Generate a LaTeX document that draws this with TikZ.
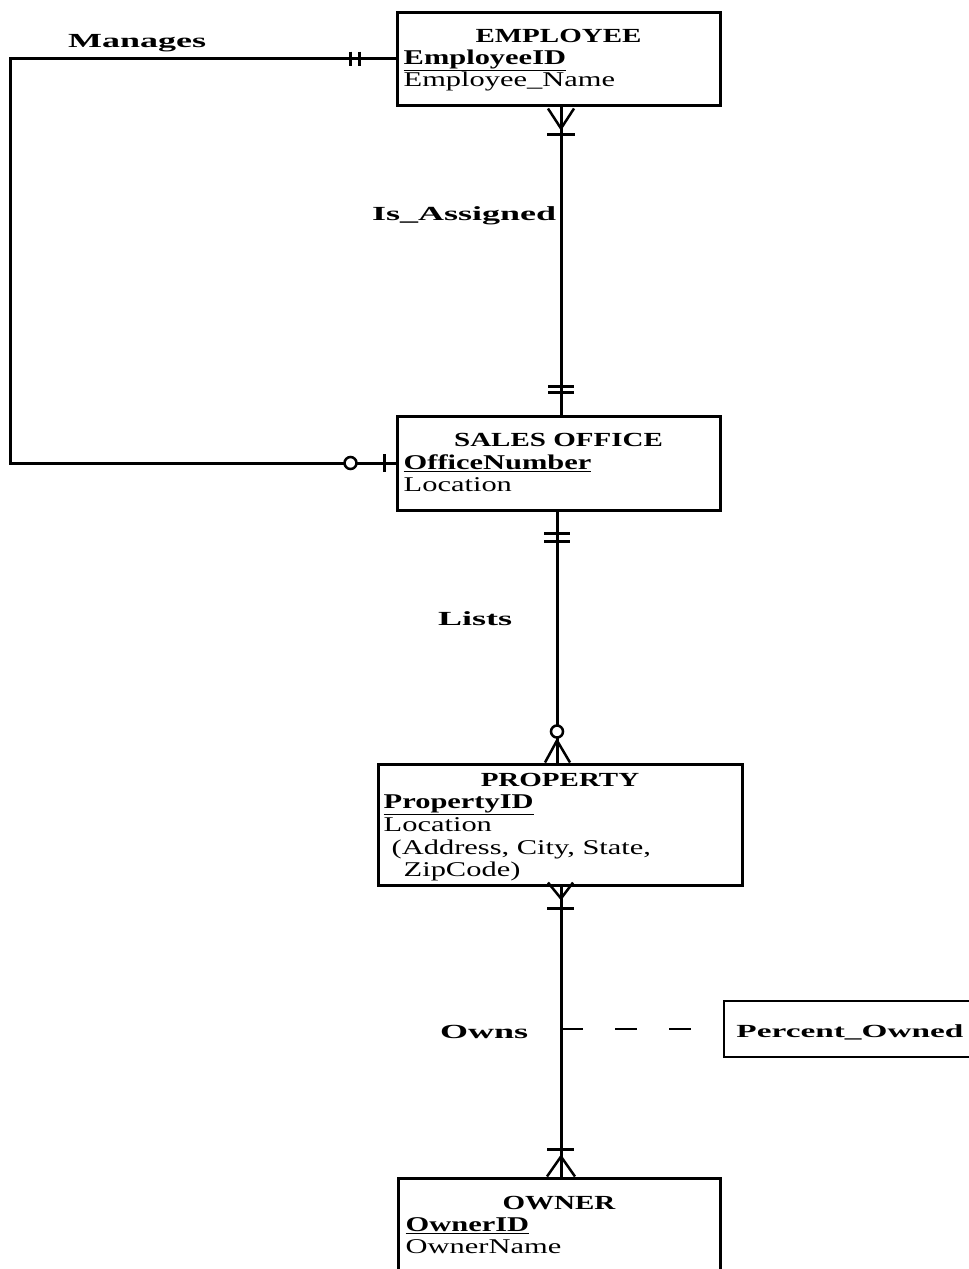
\documentclass[tikz,border=0pt]{standalone}
\usepackage{fontspec}
\setmainfont{Liberation Serif}
\newfontfamily\boxfont{Liberation Serif}[FakeStretch=1.45]
\newfontfamily\relfont{Liberation Serif}[FakeStretch=1.8]
\usetikzlibrary{positioning}

\tikzset{
  entity/.style={rectangle, draw=black, line width=3pt, inner sep=0pt},
  enttitle/.style={font=\boxfont\bfseries\fontsize{20}{22}\selectfont, anchor=base, inner sep=0pt},
  attr/.style={font=\boxfont\fontsize{21}{22}\selectfont, anchor=base west, inner sep=0pt},
  pkattr/.style={font=\boxfont\bfseries\fontsize{21}{22}\selectfont, anchor=base west, inner sep=0pt},
  rellabel/.style={font=\relfont\bfseries\fontsize{20}{24}\selectfont, anchor=base west, inner sep=0pt},
  conn/.style={line width=3pt, color=black},
  tick/.style={line width=2.5pt, color=black}
}

\begin{document}
\begin{tikzpicture}
\useasboundingbox (0pt,0pt) rectangle (969pt,-1269pt);
\clip (0pt,0pt) rectangle (969pt,-1269pt);

% entities
\node (employee) [entity, minimum width=323pt, minimum height=93pt] at (558.5pt, -58.5pt) {};
\node (salesoffice) [entity, minimum width=323pt, minimum height=94pt] at (558.5pt, -463pt) {};
\node (property) [entity, minimum width=364pt, minimum height=121pt] at (560pt, -824.5pt) {};
\node (owner) [entity, minimum width=322pt, minimum height=122pt] at (559pt, -1239pt) {};
\node (pctowned) [rectangle, draw=black, line width=1.5pt, minimum width=276pt, minimum height=56pt] at (862pt, -1029pt) {};

\node (employeeT) [enttitle] at ([yshift=-32pt]employee.north) {EMPLOYEE};
\node (employeeK) [pkattr] at ([xshift=8pt,yshift=-54pt]employee.north west) {\underline{EmployeeID}};
\node (employeeA) [attr] at ([xshift=8pt,yshift=-76pt]employee.north west) {Employee\_Name};

\node (salesofficeT) [enttitle] at ([yshift=-32pt]salesoffice.north) {SALES OFFICE};
\node (salesofficeK) [pkattr] at ([xshift=8pt,yshift=-55pt]salesoffice.north west) {\underline{OfficeNumber}};
\node (salesofficeA) [attr] at ([xshift=8pt,yshift=-77pt]salesoffice.north west) {Location};

\node (propertyT) [enttitle] at ([yshift=-24pt]property.north) {PROPERTY};
\node (propertyK) [pkattr] at ([xshift=7pt,yshift=-46pt]property.north west) {\underline{PropertyID}};
\node (propertyA) [attr] at ([xshift=7pt,yshift=-69pt]property.north west) {Location};
\node (propertyB) [attr] at ([xshift=15pt,yshift=-92pt]property.north west) {(Address, City, State,};
\node (propertyC) [attr] at ([xshift=27pt,yshift=-114pt]property.north west) {ZipCode)};

\node (ownerT) [enttitle] at ([yshift=-33pt]owner.north) {OWNER};
\node (ownerK) [pkattr] at ([xshift=9pt,yshift=-55pt]owner.north west) {\underline{OwnerID}};
\node (ownerA) [attr] at ([xshift=9pt,yshift=-77pt]owner.north west) {OwnerName};

\node (pctownedT) [rellabel, font=\relfont\bfseries\fontsize{18.5}{22}\selectfont] at ([xshift=13pt,yshift=-8pt]pctowned.west) {Percent\_Owned};

% relationship names
\node (manages) [rellabel] at (68pt, -47pt) {Manages};
\node (isassigned) [rellabel] at (372pt, -220pt) {Is\_Assigned};
\node (lists) [rellabel] at (438pt, -625pt) {Lists};
\node (owns) [rellabel] at (440pt, -1038pt) {Owns};

% connectors
\draw [conn] (employee.west) -- ++(-385pt,0pt) |- (salesoffice.west);
\draw [conn] ([xshift=2.5pt]employee.south) -- ([xshift=2.5pt]salesoffice.north);
\draw [conn] ([xshift=-1.5pt]salesoffice.south) -- ([xshift=-3pt]property.north);
\draw [conn] ([xshift=1pt]property.south) -- ([xshift=2pt]owner.north);
\coordinate (ownsmid) at (561pt, -1029pt);
\draw [line width=2.5pt, color=black, dash pattern=on 22pt off 32pt] (ownsmid) -- (pctowned.west);

% Manages ends
\draw [tick] ([xshift=-45pt,yshift=7pt]employee.west) -- ++(0pt,-14pt);
\draw [tick] ([xshift=-36pt,yshift=7pt]employee.west) -- ++(0pt,-14pt);
\draw [tick, fill=white] ([xshift=-45pt]salesoffice.west) circle (6pt);
\draw [tick] ([xshift=-11pt,yshift=9pt]salesoffice.west) -- ++(0pt,-18pt);

% Is_Assigned ends
\draw [tick] ([xshift=-10.5pt,yshift=-2pt]employee.south) -- ([xshift=2.5pt,yshift=-22pt]employee.south) -- ([xshift=15.5pt,yshift=-2pt]employee.south);
\draw [tick] ([xshift=-11.5pt,yshift=-28pt]employee.south) -- ++(28pt,0pt);
\draw [tick] ([xshift=-10.5pt,yshift=28pt]salesoffice.north) -- ++(26pt,0pt);
\draw [tick] ([xshift=-10.5pt,yshift=22pt]salesoffice.north) -- ++(26pt,0pt);

% Lists ends
\draw [tick] ([xshift=-14.5pt,yshift=-22pt]salesoffice.south) -- ++(26pt,0pt);
\draw [tick] ([xshift=-14.5pt,yshift=-30pt]salesoffice.south) -- ++(26pt,0pt);
\draw [tick] ([xshift=-15pt]property.north) -- ([xshift=-3pt,yshift=22pt]property.north) -- ([xshift=10pt]property.north);
\draw [tick, fill=white] ([xshift=-3pt,yshift=31pt]property.north) circle (6pt);

% Owns ends
\draw [tick] ([xshift=-12pt,yshift=4pt]property.south) -- ([xshift=1pt,yshift=-12pt]property.south) -- ([xshift=13pt,yshift=4pt]property.south);
\draw [tick] ([xshift=-13pt,yshift=-22pt]property.south) -- ++(27pt,0pt);
\draw [tick] ([xshift=-12pt,yshift=27pt]owner.north) -- ++(27pt,0pt);
\draw [tick] ([xshift=-12pt]owner.north) -- ([xshift=2pt,yshift=20pt]owner.north) -- ([xshift=16pt]owner.north);
\end{tikzpicture}
\end{document}
